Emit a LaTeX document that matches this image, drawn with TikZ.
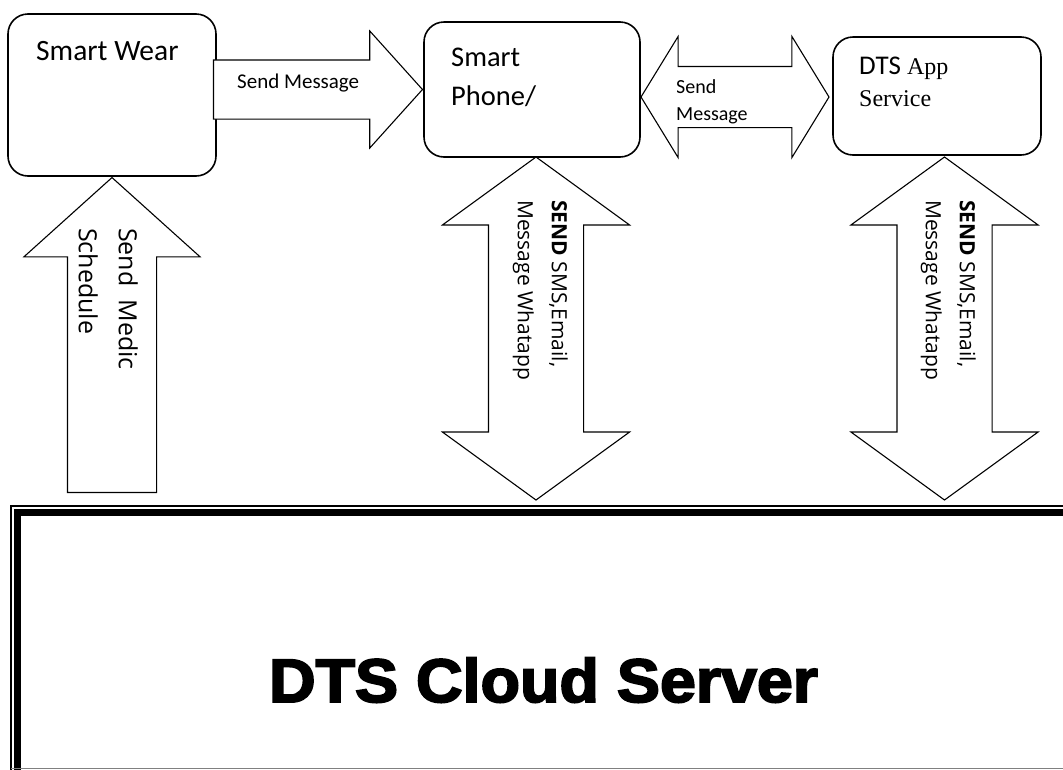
\documentclass[tikz,border=0pt]{standalone}
\usepackage{fontspec}
\setmainfont{Carlito}
\newfontfamily\opensans{Open Sans}
\newfontfamily\serifapp{Liberation Serif}
\newfontfamily\serverfont{Liberation Sans Bold}[FakeBold=3]
\usetikzlibrary{shapes.arrows}

\begin{document}
\begin{tikzpicture}[x=1pt, y=-1pt,
    box/.style={draw, line width=1.6pt, rounded corners=20pt},
    onearrow/.style={single arrow, draw, fill=white, line width=1.1pt, inner xsep=0pt, single arrow head indent=0pt},
    twoarrow/.style={double arrow, draw, fill=white, line width=1.1pt, inner xsep=0pt, double arrow head indent=0pt},
    lbl/.style={inner sep=0pt, align=left}]
    \useasboundingbox (0,0) rectangle (1063,769);
    \clip (0,0) rectangle (1063,769);
    \fill[white] (0,0) rectangle (1063,769);

    \node[box, minimum width=208pt, minimum height=162pt] (wear) at (112,95) {};
    \node[box, minimum width=216pt, minimum height=135pt] (phone) at (532,89.5) {};
    \node[box, minimum width=208pt, minimum height=118pt] (app) at (937,96) {};

    \node[onearrow, inner ysep=29pt, single arrow head extend=29pt, single arrow tip angle=96, minimum height=209pt, anchor=tip] (msg) at (phone.west) {};
    \node[onearrow, rotate=90, inner ysep=44pt, single arrow head extend=43.5pt, single arrow tip angle=96, minimum height=315pt, anchor=tip] (medic) at (wear.south) {};
    \node[twoarrow, inner ysep=30pt, double arrow head extend=30pt, double arrow tip angle=117, minimum height=188pt] (sync) at (735,97) {};
    \node[twoarrow, rotate=90, inner ysep=47pt, double arrow head extend=46pt, double arrow tip angle=108, minimum height=343pt] (phonelink) at (536,328.5) {};
    \node[twoarrow, rotate=90, inner ysep=47pt, double arrow head extend=46pt, double arrow tip angle=108, minimum height=343pt] (applink) at (944.5,328.5) {};

    \node[draw, line width=7pt, minimum width=1100pt, minimum height=320pt, anchor=north west, outer sep=0pt] (server) at (17.5,512.5) {};
    \draw[line width=1.2pt] ([shift={(-6.5,-6.5)}]server.north west) rectangle ([shift={(6.5,6.5)}]server.south east);
    \draw[gray, line width=1pt] (11,768) -- (1063,768);

    \node[lbl, anchor=base west, font=\fontsize{29.5}{34}\selectfont] (wearlbl) at (36,60) {Smart Wear};
    \node[lbl, anchor=base west, font=\fontsize{28.5}{39}\selectfont] (phonelbl) at (451,105) {Smart\\Phone/};
    \node[lbl, anchor=base west, font=\fontsize{27}{32}\selectfont] (applbl) at (859,106) {DTS {\serifapp\fontsize{24}{32}\selectfont App}\\{\serifapp\fontsize{24}{32}\selectfont Service}};
    \node[lbl, anchor=base west, font=\fontsize{21}{25}\selectfont] (msglbl) at (237,88) {Send Message};
    \begin{scope}
        \clip (677,67) rectangle (792,123);
        \node[lbl, anchor=base west, font=\fontsize{20}{27}\selectfont] (synclbl) at (676,120) {Send\\Message};
    \end{scope}
    \node[lbl, rotate=-90, anchor=north west, font=\opensans\fontsize{25}{40}\selectfont] (medictxt) at (138,228) {Send\ \ Medic\\Schedule};
    \node[lbl, rotate=-90, anchor=north west, font=\opensans\fontsize{21}{34}\selectfont] (phonetxt) at (568,200) {\textbf{SEND} SMS,Email,\\Message Whatapp};
    \node[lbl, rotate=-90, anchor=north west, font=\opensans\fontsize{21}{34}\selectfont] (apptxt) at (976,200) {\textbf{SEND} SMS,Email,\\Message Whatapp};
    \node[anchor=base, inner sep=0pt, xscale=1.05, font=\serverfont\fontsize{61.5}{70}\selectfont] (srvlbl) at (543.5,702) {DTS Cloud Server};
\end{tikzpicture}
\end{document}
